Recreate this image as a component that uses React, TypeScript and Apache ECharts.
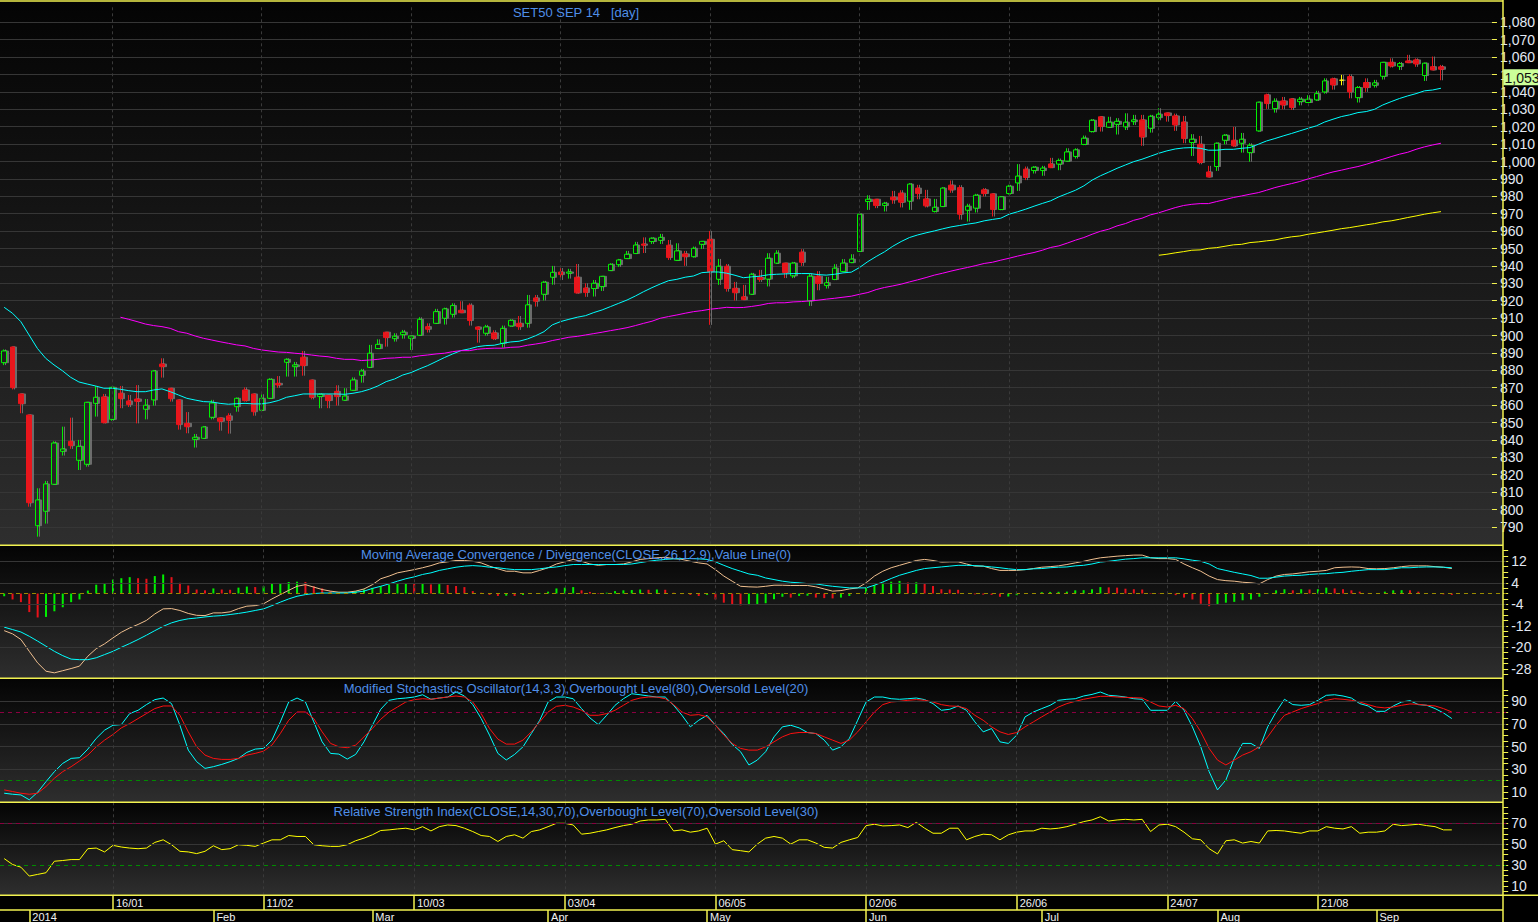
import React, { useEffect, useRef } from "react";
import * as echarts from "echarts";

// ---------------- categories (trading days) ----------------
const tradingDays: [number, number, number[]][] = [
  [2013, 12, [26, 27, 30]],
  [2014, 1, [2, 3, 6, 7, 8, 9, 10, 13, 14, 15, 16, 17, 20, 21, 22, 23, 24, 27, 28, 29, 30, 31]],
  [2014, 2, [3, 4, 5, 6, 7, 10, 11, 12, 13, 17, 18, 19, 20, 21, 24, 25, 26, 27, 28]],
  [2014, 3, [3, 4, 5, 6, 7, 10, 11, 12, 13, 14, 17, 18, 19, 20, 21, 24, 25, 26, 27, 28, 31]],
  [2014, 4, [1, 2, 3, 4, 8, 9, 10, 11, 16, 17, 18, 21, 22, 23, 24, 25, 28, 29, 30]],
  [2014, 5, [2, 6, 7, 8, 9, 12, 14, 15, 16, 19, 20, 21, 22, 23, 26, 27, 28, 29, 30]],
  [2014, 6, [2, 3, 4, 5, 6, 9, 10, 11, 12, 13, 16, 17, 18, 19, 20, 23, 24, 25, 26, 27, 30]],
  [2014, 7, [1, 2, 3, 4, 7, 8, 9, 10, 15, 16, 17, 18, 21, 22, 23, 24, 25, 28, 29, 30, 31]],
  [2014, 8, [1, 4, 5, 6, 7, 8, 13, 14, 15, 18, 19, 20, 21, 22, 25, 26, 27, 28, 29]],
  [2014, 9, [1, 2, 3, 4, 5, 8, 9, 10, 11, 12, 15, 16, 17, 18, 19, 22]],
];
const pad2 = (n: number) => String(n).padStart(2, "0");
const categories: string[] = [];
const catMonth: number[] = [];
tradingDays.forEach(([y, m, days]) =>
  days.forEach((d) => {
    categories.push(`${pad2(d)}/${pad2(m)}/${y}`);
    catMonth.push(y * 100 + m);
  })
);

const topRowLabels = ["16/01", "11/02", "10/03", "03/04", "06/05", "02/06", "26/06", "24/07", "21/08"];
const monthRowLabels = ["2014", "Feb", "Mar", "Apr", "May", "Jun", "Jul", "Aug", "Sep"];

// ---------------- price data [open, close, low, high] ----------------
const candles: number[][] = [
  [884.4, 891.1, 883.0, 892.0], [893.4, 870.0, 869.0, 893.6], [866.4, 860.8, 855.3, 866.5], [854.3, 803.9, 801.6, 854.5],
  [790.7, 805.5, 784.4, 812.2], [799.0, 814.7, 791.9, 816.4], [814.5, 838.2, 814.5, 839.2], [833.4, 834.8, 831.0, 847.6],
  [839.2, 836.7, 834.8, 852.8], [828.3, 836.3, 822.7, 840.0], [826.0, 861.6, 824.6, 861.6], [861.0, 864.5, 853.4, 871.0],
  [864.7, 849.9, 849.5, 866.4], [851.8, 870.2, 851.0, 870.5], [866.8, 863.7, 858.2, 871.0], [862.4, 860.3, 858.9, 865.8],
  [863.5, 862.2, 849.5, 871.5], [857.6, 859.9, 851.8, 863.5], [863.0, 879.6, 859.7, 880.2], [883.6, 882.1, 875.8, 886.9],
  [869.7, 863.7, 862.0, 869.7], [863.0, 848.8, 845.9, 863.0], [849.5, 847.6, 843.8, 856.0], [840.3, 841.5, 835.6, 843.4],
  [840.9, 847.4, 840.5, 848.0], [853.0, 861.2, 851.8, 863.0], [852.6, 850.7, 845.3, 852.6], [853.8, 851.3, 843.6, 855.3],
  [859.1, 863.9, 856.2, 864.3], [868.7, 862.6, 862.0, 870.2], [866.4, 856.2, 853.9, 866.4], [857.0, 863.9, 856.8, 866.2],
  [863.9, 874.8, 863.7, 875.4], [872.5, 871.6, 869.9, 876.7], [884.6, 886.3, 876.4, 886.9], [882.1, 883.1, 876.4, 884.8],
  [887.5, 882.7, 876.9, 891.1], [874.4, 864.5, 863.3, 874.4], [864.9, 866.2, 858.2, 866.8], [865.8, 862.6, 858.2, 865.8],
  [867.9, 864.9, 859.7, 871.4], [862.8, 865.2, 862.6, 869.7], [868.5, 874.4, 868.4, 875.9], [877.1, 879.6, 872.9, 880.8],
  [881.7, 889.8, 881.5, 894.6], [892.5, 894.9, 892.3, 897.8], [901.9, 898.8, 893.6, 901.9], [898.2, 899.6, 896.5, 901.3],
  [900.5, 901.9, 898.2, 903.2], [898.4, 899.7, 891.7, 899.7], [900.1, 909.3, 900.1, 910.5], [905.1, 903.6, 901.7, 907.0],
  [907.0, 913.7, 906.6, 915.3], [909.9, 915.3, 906.3, 916.0], [912.2, 917.2, 910.3, 918.5], [914.5, 913.1, 913.1, 919.7],
  [917.4, 908.6, 905.7, 918.5], [904.9, 903.6, 895.9, 904.9], [901.3, 904.9, 899.9, 906.1], [901.5, 898.2, 897.4, 903.0],
  [895.5, 904.1, 893.0, 905.7], [905.5, 908.7, 905.1, 909.3], [907.0, 905.1, 903.2, 911.2], [907.0, 917.6, 904.5, 923.3],
  [921.6, 919.7, 916.6, 923.3], [923.7, 930.6, 920.1, 931.4], [933.5, 936.3, 929.2, 940.0], [936.5, 935.0, 931.9, 938.8],
  [935.8, 936.5, 932.7, 938.3], [933.5, 924.5, 924.1, 941.1], [927.3, 924.7, 922.2, 930.0], [927.0, 930.0, 922.4, 931.9],
  [928.1, 934.0, 925.6, 934.0], [937.3, 940.9, 937.3, 941.5], [940.7, 943.4, 939.4, 944.0], [944.2, 946.7, 944.2, 948.6],
  [947.1, 952.0, 947.1, 953.8], [952.6, 951.9, 947.4, 956.4], [954.0, 955.9, 952.6, 956.4], [954.7, 956.4, 952.6, 958.4],
  [951.9, 944.8, 943.4, 954.9], [943.2, 948.6, 942.8, 953.0], [946.9, 945.3, 940.0, 948.6], [945.3, 950.1, 944.8, 951.1],
  [952.4, 954.1, 949.7, 954.1], [955.3, 936.7, 906.1, 960.1], [932.3, 939.8, 929.1, 944.0], [939.8, 927.0, 925.2, 941.1],
  [927.1, 924.6, 920.1, 930.8], [922.2, 920.6, 920.6, 929.1], [923.7, 935.2, 923.4, 936.0], [933.3, 932.2, 930.8, 937.7],
  [932.4, 944.4, 928.2, 947.3], [941.6, 947.3, 941.2, 949.0], [941.6, 936.2, 933.0, 941.6], [934.3, 941.6, 933.0, 942.3],
  [947.9, 942.1, 940.0, 949.6], [919.9, 934.1, 917.0, 935.6], [934.1, 929.9, 926.0, 937.0], [928.7, 930.3, 927.0, 933.7],
  [932.2, 938.7, 931.8, 941.0], [936.8, 941.6, 936.8, 943.9], [941.9, 943.9, 941.6, 946.7], [948.3, 969.7, 948.3, 970.1],
  [977.0, 978.3, 972.2, 980.6], [978.3, 974.7, 973.2, 978.3], [974.7, 976.0, 971.3, 976.8], [979.5, 978.0, 975.7, 983.1],
  [981.8, 976.6, 973.6, 983.5], [977.2, 987.0, 972.2, 987.5], [984.7, 981.6, 978.3, 986.6], [978.5, 974.5, 973.6, 983.7],
  [971.3, 973.7, 970.7, 978.5], [974.1, 984.7, 973.9, 985.2], [986.4, 983.7, 982.0, 989.1], [985.0, 969.7, 966.6, 986.4],
  [972.0, 974.3, 965.5, 975.7], [973.2, 980.6, 970.7, 981.4], [983.7, 981.6, 979.9, 984.7], [981.4, 972.4, 968.4, 981.4],
  [972.4, 979.7, 972.0, 980.1], [981.6, 985.8, 981.0, 986.6], [987.7, 991.6, 983.1, 998.5], [995.6, 990.8, 989.3, 997.1],
  [994.8, 996.7, 993.1, 997.3], [994.8, 996.2, 991.8, 997.5], [998.6, 996.5, 996.2, 1002.1], [998.5, 1000.6, 995.0, 1001.7],
  [1000.2, 1005.5, 1000.2, 1007.6], [1002.9, 1006.7, 1001.7, 1007.6], [1009.8, 1013.4, 1009.4, 1014.9], [1017.2, 1023.7, 1016.7, 1024.3],
  [1025.7, 1020.1, 1017.2, 1025.7], [1019.7, 1022.6, 1019.5, 1025.7], [1021.4, 1023.1, 1015.5, 1024.9], [1019.9, 1022.6, 1018.1, 1027.7],
  [1022.9, 1023.9, 1021.0, 1026.8], [1023.9, 1014.1, 1009.0, 1026.8], [1019.1, 1026.0, 1016.6, 1026.8], [1025.2, 1027.2, 1023.7, 1030.6],
  [1027.9, 1026.4, 1022.9, 1027.9], [1026.2, 1021.0, 1017.6, 1027.5], [1022.7, 1013.2, 1010.5, 1026.2], [1010.9, 1012.8, 1003.2, 1015.7],
  [1009.9, 999.4, 998.4, 1014.7], [994.0, 991.1, 991.1, 997.5], [997.1, 1010.5, 994.6, 1010.9], [1012.2, 1015.1, 1009.9, 1015.7],
  [1012.2, 1009.0, 1008.4, 1019.9], [1010.5, 1012.8, 1005.1, 1016.4], [1005.1, 1009.3, 999.9, 1010.5], [1017.6, 1034.1, 1017.2, 1034.2],
  [1038.3, 1033.3, 1030.2, 1039.0], [1030.4, 1034.6, 1028.1, 1036.3], [1034.8, 1032.5, 1030.0, 1037.1], [1036.0, 1031.0, 1029.6, 1036.3],
  [1034.4, 1035.8, 1032.3, 1037.1], [1033.9, 1035.8, 1033.9, 1038.1], [1035.4, 1039.0, 1034.8, 1040.6], [1040.0, 1046.3, 1039.0, 1047.8],
  [1047.5, 1044.0, 1041.3, 1048.2], [1046.7, 1046.7, 1043.8, 1049.8], [1048.8, 1040.0, 1036.3, 1050.1], [1036.7, 1042.5, 1033.9, 1043.4],
  [1045.4, 1042.5, 1040.0, 1047.8], [1043.8, 1045.2, 1042.5, 1046.9], [1049.0, 1057.0, 1047.1, 1057.0], [1057.0, 1054.9, 1054.0, 1059.3],
  [1054.7, 1056.3, 1052.6, 1057.2], [1057.8, 1056.8, 1056.8, 1061.3], [1058.4, 1056.1, 1054.4, 1059.3], [1049.4, 1056.5, 1046.3, 1056.8],
  [1054.5, 1052.6, 1052.6, 1060.3], [1054.4, 1053.0, 1046.7, 1055.5],
];

// moving averages
const maFast = [
  916.2, 912.8, 908, 900.3, 892.6, 886.9, 883.1, 879.8, 876, 873.3, 872.1, 871, 869.7, 869.7, 869.1, 868.3, 867.7, 867.7, 868.7, 869.3,
  867.7, 865.8, 863.9, 862.9, 862, 861.8, 861, 860.5, 860.8, 861, 860.7, 860.7, 861.4, 862.6, 864.5, 865.4, 866.4, 866.4, 866.4, 866.4,
  866.4, 866.2, 866.8, 867.7, 869.1, 871, 873.5, 875, 877.3, 878.7, 880.8, 882.7, 885, 887.3, 889.4, 891.3, 892.3, 893.6, 894.2, 894.4,
  895.5, 896.3, 896.7, 898, 899.9, 902.2, 906.1, 908, 909.3, 910.5, 911.4, 913.2, 914.7, 916.6, 918.5, 920.4, 922.7, 925.2, 927.5, 929.6,
  931.5, 932.3, 933.5, 934.2, 936.1, 936.5, 936.5, 935.8, 934.6, 933.2, 933.7, 934.1, 934.9, 935.2, 935.4, 935.6, 935.6, 935.6, 935.0, 934.7,
  935.2, 936, 936.4, 939.1, 942.5, 945.4, 948.1, 951.3, 954, 956.3, 957.8, 959, 960.1, 961.3, 962.4, 963.2, 964, 964.7, 965.9, 966.7,
  967.4, 969.7, 971.1, 972.6, 974.3, 975.9, 977.4, 979.7, 981.6, 983.5, 986, 989.3, 991.8, 993.9, 996.1, 998, 999.9, 1001.3, 1003, 1004.7,
  1006.1, 1007.2, 1007.8, 1008, 1007.6, 1006.5, 1006.5, 1007, 1007, 1007.6, 1008, 1009.9, 1011.8, 1013.2, 1014.7, 1016.1, 1017.6, 1019.1, 1020.5, 1022.7,
  1024.3, 1025.8, 1026.8, 1028.1, 1028.7, 1030, 1032.5, 1034.4, 1036.2, 1037.7, 1039, 1040.6, 1041.1, 1042.1,
];
const maMidStart = 14;
const maMid = [
  910.5, 909.3, 908, 906.6, 905.7, 905.1, 904.1, 902.2, 901.3, 899.7, 898.4, 897.4, 896.4, 895.5, 894.6, 894, 892.6, 891.7, 891.1, 890.5,
  890.3, 889.8, 889.4, 888.8, 888.2, 887.8, 886.9, 886.3, 886.3, 885.6, 885.9, 886.3, 886.9, 887.1, 887.5, 887.5, 888.3, 888.8, 889.4, 889.8,
  890.7, 891.3, 891.3, 892.1, 892.5, 892.7, 892.7, 893.2, 893.4, 894.4, 895.1, 895.9, 897.1, 898, 899, 899.5, 900.3, 901.1, 901.9, 902.8,
  903.6, 904.5, 905.7, 907, 908.2, 909.9, 910.9, 911.8, 912.8, 913.7, 914.3, 915.1, 915.6, 916.2, 916, 916.1, 916.7, 917.4, 918.4, 918.8,
  918.8, 919.3, 919.5, 919.9, 920.3, 920.9, 921.4, 922, 922.6, 923.7, 924.7, 926.4, 927.6, 928.5, 929.5, 930.8, 932, 933.3, 934.7, 935.8,
  937, 938.1, 939.1, 940.2, 941.4, 942.1, 943.3, 944.4, 945.6, 946.7, 947.7, 949, 950.6, 951.5, 953.1, 954.8, 956.3, 958.2, 959.9, 961.1,
  963, 964.3, 966.2, 967.4, 969.3, 970.5, 972, 973.5, 974.7, 975.4, 975.8, 975.8, 977, 978.1, 979.3, 980.2, 981.2, 982.1, 983.5, 985,
  986.2, 987.3, 988.5, 990, 991.3, 992.7, 994, 995, 996.1, 997.1, 998.4, 999.9, 1001.3, 1002.8, 1004.2, 1005.3, 1007, 1008.4, 1009.5, 1010.5,
];
const maSlowStart = 139;
const maSlow = [
  946.1, 946.7, 947.5, 948.2, 949, 949.2, 950.1, 950.5, 951.3, 952.1, 952.4, 953.4, 953.8, 954.4, 954.9, 955.9, 956.7, 957.2, 958.2, 958.9,
  959.7, 960.5, 961.4, 962, 962.8, 963.6, 964.3, 965.3, 965.9, 966.8, 967.8, 968.7, 969.7, 970.5, 971.2,
];

// MACD
const macdLine = [
  -13.8, -15, -17.1, -21.5, -25.8, -28.9, -29.5, -28.7, -27.9, -27, -23.3, -20.5, -18.7, -16.5, -14.4, -12.8, -11.5, -10, -7.6, -5.7,
  -5.6, -6.3, -7.4, -8.1, -8.2, -7.2, -7.2, -6.8, -5.6, -4.7, -4.5, -3.8, -2, -0.4, 1.2, 2.7, 3.3, 2.4, 1.5, 0.9,
  0.5, 0.5, 0.9, 1.7, 3.3, 5.5, 6.5, 7.7, 8.3, 8.9, 9.6, 10.4, 11.4, 11.8, 12.3, 12.3, 12, 11.4, 10.2, 9.2,
  8.3, 8.3, 7.7, 7.7, 8.6, 9.6, 11, 11.8, 12.7, 12, 11, 10.5, 10.8, 10.8, 11, 11.8, 12.7, 13, 13.3, 13.5,
  13, 12.7, 12, 11.4, 11, 8.9, 6.5, 4.6, 2.7, 2.5, 2.4, 2.7, 3.1, 3.1, 3, 3, 3, 2.5, 1.7, 0.9,
  1.1, 1.7, 2.1, 4, 6.5, 8.3, 9.6, 10.5, 11.4, 12.3, 12.7, 12.3, 11.7, 11.8, 11.8, 11, 10.2, 10.2, 9.3, 8.6,
  8.6, 8.6, 8.9, 9.3, 9.8, 10, 10.3, 10.8, 11.4, 12, 12.7, 13.3, 13.6, 13.9, 14.1, 14.3, 14.3, 13.3, 13, 13,
  12.7, 11, 9.6, 8.3, 6.5, 5.2, 4.8, 4.6, 4.2, 4, 3.6, 5.2, 6.5, 7.1, 7.3, 7.7, 8.1, 8.3, 8.6, 9.6,
  9.8, 9.9, 9.8, 9.3, 9.2, 9.3, 9.6, 10, 10.3, 10.3, 10.3, 10, 9.8, 9.3,
];
const signalLine = [
  -12.5, -13.4, -14.3, -15.9, -17.7, -19.6, -21.5, -23.1, -24.4, -24.6, -24.6, -23.9, -22.7, -21.5, -20, -18.6, -17.1, -15.5, -13.8, -12.2,
  -10.9, -10, -9.4, -9.1, -8.7, -8.4, -8.2, -7.8, -7.4, -6.9, -6.3, -5.7, -4.5, -3.2, -2, -1, -0.4, 0, 0.2, 0.2,
  0.2, 0.2, 0.5, 0.9, 1.9, 2.7, 3.6, 4.6, 5.5, 6.2, 7.1, 7.7, 8.6, 9.2, 9.8, 10.2, 10.4, 10.2, 9.8, 9.6,
  9.2, 8.9, 8.9, 8.9, 9.2, 9.6, 9.9, 10.4, 10.8, 10.8, 10.8, 10.8, 10.8, 10.8, 10.8, 11, 11.5, 12, 12.4, 12.7,
  12.9, 13, 13, 12.9, 12.7, 11.8, 10.5, 9.3, 8.3, 7.3, 6.8, 5.8, 5.2, 4.6, 4.2, 4, 3.7, 3.6, 3.1, 2.7,
  2.4, 2.1, 2.1, 2.1, 3.1, 4.3, 5.6, 6.8, 7.7, 8.6, 9.3, 9.6, 9.9, 10.2, 10.5, 10.5, 10.4, 10.2, 9.9, 9.6,
  9.2, 8.9, 8.9, 9.2, 9.3, 9.6, 9.8, 9.9, 10.3, 10.5, 11, 11.7, 12, 12.4, 12.8, 13, 13.3, 13.3, 13.3, 13.3,
  13.3, 12.9, 12.4, 12, 11, 9.3, 8.6, 7.9, 7.3, 6.7, 5.7, 5.7, 6.1, 6.5, 6.7, 6.8, 7.1, 7.3, 7.4, 7.7,
  7.9, 8.3, 8.6, 8.9, 8.9, 8.9, 9.2, 9.6, 9.6, 9.8, 9.9, 9.9, 9.8, 9.6,
];
const macdHist = [
  -1.0, -2.2, -3.2, -6.9, -8.9, -8.7, -6.6, -5.1, -3.2, -2.2, 1.1, 3.3, 3.8, 5.2, 5.7, 6.1, 5.7, 5.5, 6.5, 7.1,
  6.1, 4.0, 3.0, 1.5, 1.2, 1.9, 1.5, 1.4, 2.2, 2.6, 2.4, 2.7, 3.6, 3.8, 4.3, 4.4, 4.3, 2.7, 1.9, 0.9,
  0.3, 0.1, 0.9, 1.5, 2.1, 2.7, 3.3, 3.7, 3.8, 3.6, 3.8, 3.4, 3.5, 3.2, 2.8, 2.4, 0.9, 0.3, -0.5, -0.9,
  -0.8, -0.9, -0.5, 0, 0.2, 0.7, 1.9, 2.2, 2.4, 1.2, 0.6, 0.2, 0.3, 0.9, 1.2, 1.3, 1.5, 1.4, 1.5, 1.4,
  0.3, -0.2, -0.5, -0.9, -0.5, -2.2, -3.4, -4.0, -4.4, -4.3, -4.0, -3.6, -2.1, -1.2, -1.5, -0.9, -0.8, -1.5, -1.7, -1.8,
  -1.5, -0.9, 0, 2.2, 3.2, 4.1, 4.4, 4.7, 4.1, 4.2, 3.7, 2.8, 1.6, 1.5, 1.4, 0, -0.3, -0.4, -0.5, -1.2,
  -1.1, -0.6, 0, 0.1, 0.5, 0.6, 0.65, 0.7, 1.2, 1.25, 1.6, 2.4, 2.3, 2.2, 1.8, 1.6, 1.5, 0.2, 0.1, 0,
  -0.6, -1.5, -2.2, -3.8, -4.7, -4.0, -3.4, -3.1, -2.5, -2.2, -1.2, 0.2, 1.2, 1.6, 1.2, 1.6, 1.5, 1.6, 2.2, 1.9,
  1.6, 1.2, 0.7, 0.1, 0, 0.7, 1.2, 1.25, 1.2, 0.7, 0.2, 0.1, -0.3, -0.5,
];

// Stochastics
const stochK = [
  9, 8.1, 7.5, 3.2, 9.9, 19.2, 28, 35.3, 39.7, 40.3, 47.9, 57.3, 64.6, 68.9, 69.5, 79.2, 82.1, 87.1, 91.5, 92.9,
  88, 68.9, 47, 36.8, 30.9, 32.4, 34.4, 36.8, 39.7, 45, 47.9, 48.5, 55.8, 71.9, 89.4, 92.9, 89.4, 71.9, 54.3, 44.1,
  43.5, 39.1, 43.2, 54.3, 68.9, 83, 90.9, 92.3, 92.9, 93.8, 95.8, 91.8, 92.9, 93.8, 98.2, 94.7, 87.1, 74.9, 60.2, 44.1,
  38.3, 43.2, 49.9, 61.6, 73.3, 89.4, 93.8, 93.8, 92.3, 83.6, 75.4, 69.5, 77.7, 86.5, 92.3, 96.7, 95.8, 94.7, 93.8, 93.8,
  86.5, 77.7, 67.5, 73.3, 77.7, 68.9, 61.6, 52, 45.6, 33.9, 38.2, 45.6, 58.7, 67.5, 68.9, 66.6, 62.5, 61.6, 55.8, 47,
  49.9, 57.3, 73.3, 89.4, 93.8, 93.8, 92.3, 91.8, 92.3, 92.9, 91.5, 88, 82.1, 83, 85.9, 82.1, 71.9, 63.1, 66, 54.3,
  52.9, 60.2, 76.3, 80.6, 83.6, 86.5, 90.9, 91.8, 92.3, 94.7, 96.1, 98.2, 95.3, 94.7, 93.8, 92.3, 91.8, 82.1, 82.1, 82.1,
  90, 82.1, 67.5, 49.9, 28, 11.9, 20.7, 39.7, 52.9, 52.9, 48.5, 67.5, 80.6, 91.8, 87.1, 86.5, 87.1, 90.9, 95.3, 95.8,
  94.7, 92.9, 88, 85.9, 81.2, 81.2, 85.9, 89.4, 90.6, 87.1, 86.5, 83.6, 79.8, 74.8,
];
const stochD = [
  11.9, 10.5, 9, 8.1, 9, 14.9, 22.2, 28, 32.4, 37.4, 42.6, 49.9, 55.8, 60.8, 66.6, 70.4, 74.8, 79.2, 83.6, 85.9,
  85.9, 77.7, 63.1, 49.9, 42.6, 39.7, 38.8, 38.8, 39.7, 42.6, 44.1, 46.1, 51.4, 61.6, 73.3, 80.6, 80.6, 74.8, 63.1, 52.9,
  49.9, 49.1, 51.4, 58.7, 66, 74.2, 80.6, 85, 89.4, 91.5, 92.3, 91.8, 92.9, 93.8, 94.7, 93.8, 89.4, 79.2, 66, 56.7,
  52.3, 52.3, 55.8, 63.1, 71.9, 80.6, 85.6, 86.5, 85, 82.1, 77.7, 77.7, 79.2, 82.1, 86.5, 90.9, 92.9, 93.8, 93.8, 92.3,
  87.1, 80.6, 77.7, 78.3, 76.3, 68.9, 60.2, 52.9, 48.5, 47, 47, 49.9, 54.3, 58.7, 61.6, 62.5, 62.5, 61.6, 58.7, 55.8,
  52.9, 55.8, 63.1, 71.9, 80.6, 87.1, 89.4, 90, 90.9, 91.5, 90.9, 89.4, 87.1, 85.9, 85.6, 83.6, 77.7, 73.3, 67.5, 63.1,
  60.8, 62.5, 67.5, 71.9, 76.3, 80.6, 85, 88, 90, 91.8, 93.2, 94.4, 94.4, 93.8, 93.5, 93.2, 92.9, 89.4, 85.9, 85,
  86.5, 83.6, 74.8, 63.1, 48.5, 38.2, 33.9, 38.2, 42.6, 45.6, 49.9, 58.7, 68.9, 77.7, 80.6, 83.6, 85.9, 88, 90.9, 92.3,
  91.8, 90.9, 89.4, 87.1, 85, 84.2, 85, 86.5, 87.7, 87.4, 86.5, 85.9, 83.6, 80.6,
];

// RSI
const rsi = [
  36.2, 30.6, 28, 19.5, 21.1, 22.7, 33.7, 34.4, 35.3, 35.3, 45.7, 46.3, 42.6, 48.9, 47.3, 46.3, 45.7, 46.3, 51.7, 54.2,
  49.5, 43.2, 42.6, 41, 43.2, 48.5, 44.8, 45.7, 49.5, 48.9, 47.9, 51.1, 54.2, 54.2, 58.3, 57.4, 57.4, 49.5, 48.5, 47.9,
  47.9, 49.5, 53.3, 55.8, 59, 63.1, 63.7, 64.6, 65.3, 63.7, 66.8, 62.7, 66.8, 68.4, 67.8, 65.3, 62.1, 58.3, 57.4, 52.6,
  57.4, 59, 55.8, 62.1, 63.7, 66.8, 70, 70, 68.4, 59.6, 60.5, 62.1, 63.7, 65.9, 67.8, 69.1, 72.2, 73.2, 73.2, 73.8,
  62.7, 63.7, 61.5, 62.7, 65.3, 50.1, 53.3, 44.8, 43.8, 42.6, 50.1, 55.8, 57.4, 55.8, 50.1, 54.2, 54.2, 51.1, 47, 46.3,
  51.7, 54.2, 56.4, 67.8, 69.1, 67.5, 67.8, 68.4, 65.9, 70.9, 65.3, 60.5, 60.5, 65.3, 65.3, 54.2, 57.4, 59.6, 59, 54.2,
  59, 61.5, 62.7, 62.7, 65.3, 64.6, 65.3, 66.8, 69.1, 71.6, 73.2, 76.3, 72.2, 73.2, 73.8, 73.2, 73.8, 62.1, 68.4, 69.1,
  66.8, 61.5, 55.2, 54.2, 45.7, 40.7, 53.3, 54.2, 51.1, 52.6, 51.1, 62.7, 63.1, 62.7, 61.5, 60.5, 62.7, 62.7, 66.8, 65.3,
  64.6, 66.8, 60.5, 61.5, 61.5, 62.7, 69.1, 67.8, 68.4, 69.1, 67.8, 66.8, 63.7, 63.7,
];

// axis tick / label values
const macdLabels = [12, 4, -4, -12, -20, -28];
const macdTicks = [16, 14, 12, 10, 8, 6, 4, 2, 0, -2, -4, -6, -8, -10, -12, -14, -16, -18, -20, -22, -24, -26, -28, -30];
const macdGrid = [12, 4, -4, -12, -20];
const stochLabels = [90, 70, 50, 30, 10];
const stochTicks = [100, 95, 90, 85, 80, 75, 70, 65, 60, 55, 50, 45, 40, 35, 30, 25, 20, 15, 10, 5];
const stochGrid = [90, 70, 50, 30];
const rsiLabels = [70, 50, 30, 10];
const rsiTicks = [85, 80, 75, 70, 65, 60, 55, 50, 45, 40, 35, 30, 25, 20, 15, 10, 5];
const rsiGrid = [70, 50];

// ---------------- styling ----------------
const YEL = "#f2f250";
const GRID = "#363636";
const VGRID = "#3a3a3a";
const LBL = "#e2e8f2";
const GREEN = "#00f000";
const RED = "#e8121a";
const CYAN = "#00ffff";
const FONT = "'Liberation Sans', Arial, sans-serif";
const TITLE = "#4f8fe8";
const BG_TOP = [4, 4, 4];
const BG_BOTTOM = [46, 46, 46];

const GL = -2.7;
const GW = 1508.9;
const AXIS_X = 1503;
const P = { top: 1, macd: 545.3, stoch: 678.3, rsi: 802.3, rsiBottom: 895.3, row2: 910 };
const MAIN_MIN = 780;
const MAIN_MAX = 1090;

const rgb = (c: number[]) => `rgb(${c.map((x) => Math.round(x)).join(",")})`;
// fill of a hollow (rising) candle: the panel colour behind it
const hollowFill = (o: number, c: number) => {
  const mid = (o + c) / 2;
  const t = Math.min(1, Math.max(0, (MAIN_MAX - mid) / (MAIN_MAX - MAIN_MIN)));
  return rgb(BG_TOP.map((a, i) => a + (BG_BOTTOM[i] - a) * t));
};
const lastClose = candles[candles.length - 1][1];
const priceText = lastClose.toLocaleString("en-US", { minimumFractionDigits: 1, maximumFractionDigits: 1 });

function buildOption() {
  const topIdx = new Set<number>();
  categories.forEach((c, i) => {
    if (topRowLabels.includes(c.slice(0, 5))) topIdx.add(i);
  });
  const monthIdx = new Map<number, string>();
  let k = 0;
  for (let i = 1; i < categories.length; i++) {
    if (catMonth[i] !== catMonth[i - 1] && k < monthRowLabels.length) {
      monthIdx.set(i, monthRowLabels[k++]);
    }
  }
  const vLines = Array.from(topIdx).map((i) => ({
    xAxis: categories[i],
    lineStyle: { color: VGRID, type: [3, 3] as any, width: 1 },
  }));
  const hLines = (vals: number[]) =>
    vals.map((v) => ({ yAxis: v, lineStyle: { color: GRID, type: "solid", width: 1 } }));
  const dashLine = (v: number, color: string) => ({ yAxis: v, lineStyle: { color, type: [4, 4] as any, width: 1 } });
  const mlBase = { symbol: ["none", "none"], silent: true, animation: false, label: { show: false }, precision: 2 };

  const pad = (start: number, vals: number[]) => Array(start).fill("-").concat(vals);

  const grids = [
    { left: GL, width: GW, top: 4.9, height: 539.4 },
    { left: GL, width: GW, top: P.macd, height: P.stoch - P.macd },
    { left: GL, width: GW, top: P.stoch, height: P.rsi - P.stoch },
    { left: GL, width: GW, top: P.rsi, height: P.rsiBottom - P.rsi },
  ];

  const hiddenX = (g: number) => ({ type: "category", gridIndex: g, data: categories, show: false, boundaryGap: true });

  const subY = (g: number, min: number, max: number, labels: number[], ticks: number[]) => ({
    type: "value",
    gridIndex: g,
    position: "right",
    offset: -3,
    min,
    max,
    axisLine: { show: false },
    axisTick: { show: true, length: 5, customValues: ticks, lineStyle: { color: YEL } },
    axisLabel: { customValues: labels, color: LBL, fontSize: 14, fontFamily: FONT, margin: 8 },
    splitLine: { show: false },
  });

  const lineS = (xi: number, data: any[], color: string, width = 1) => ({
    type: "line",
    xAxisIndex: xi,
    yAxisIndex: xi,
    data,
    showSymbol: false,
    symbol: "none",
    silent: true,
    clip: false,
    lineStyle: { color, width },
    itemStyle: { color },
  });

  const dummy = (xi: number, data: any[]) => ({
    type: "line",
    xAxisIndex: xi,
    yAxisIndex: xi,
    data: [],
    silent: true,
    markLine: { ...mlBase, data },
  });

  const bg = (id: string, top: number, bottom: number) => ({
    id,
    type: "rect",
    z: -10,
    silent: true,
    shape: { x: 0, y: top, width: AXIS_X, height: bottom - top },
    style: {
      fill: new echarts.graphic.LinearGradient(0, 0, 0, 1, [
        { offset: 0, color: rgb(BG_TOP) },
        { offset: 1, color: rgb(BG_BOTTOM) },
      ]),
    },
  });
  const hl = (id: string, y: number, x2 = AXIS_X) => ({
    id,
    type: "line",
    z: 50,
    silent: true,
    shape: { x1: 0, y1: y, x2, y2: y },
    style: { stroke: YEL, lineWidth: 1.5 },
  });
  const title = (id: string, text: string, y: number) => ({
    id,
    type: "text",
    z: 50,
    silent: true,
    x: 576,
    y,
    style: { text, fill: TITLE, font: `13px ${FONT}`, align: "center", verticalAlign: "middle" },
  });

  const candleData = candles.map(([o, c, l, h]) => ({
    value: [o, c, l, h],
    itemStyle: c > o ? { color: hollowFill(o, c) } : undefined,
  }));

  return {
    animation: false,
    backgroundColor: "#000",
    grid: grids,
    xAxis: [
      hiddenX(0),
      hiddenX(1),
      hiddenX(2),
      hiddenX(3),
      {
        type: "category",
        gridIndex: 3,
        data: categories,
        position: "bottom",
        offset: 0,
        axisLine: { show: false },
        axisTick: {
          show: true,
          alignWithLabel: true,
          interval: (i: number) => topIdx.has(i),
          length: P.row2 - P.rsiBottom,
          lineStyle: { color: YEL, width: 1.5 },
        },
        axisLabel: {
          show: true,
          interval: (i: number) => topIdx.has(i),
          formatter: (v: string) => v.slice(0, 5),
          color: "#f0f0f0",
          fontSize: 11,
          fontFamily: FONT,
          align: "left",
          padding: [0, 0, 0, 3],
          margin: 2,
        },
        splitLine: { show: false },
      },
      {
        type: "category",
        gridIndex: 3,
        data: categories,
        position: "bottom",
        offset: P.row2 - P.rsiBottom,
        axisLine: { show: false },
        axisTick: {
          show: true,
          alignWithLabel: true,
          interval: (i: number) => monthIdx.has(i),
          length: 14,
          lineStyle: { color: YEL, width: 1.5 },
        },
        axisLabel: {
          show: true,
          interval: (i: number) => monthIdx.has(i),
          formatter: (_v: string, i: number) => monthIdx.get(i) || "",
          color: "#f0f0f0",
          fontSize: 11,
          fontFamily: FONT,
          align: "left",
          padding: [0, 0, 0, 3],
          margin: 1,
        },
        splitLine: { show: false },
      },
    ],
    yAxis: [
      {
        type: "value",
        gridIndex: 0,
        position: "right",
        offset: -3,
        min: MAIN_MIN,
        max: MAIN_MAX,
        interval: 10,
        axisLine: { show: false },
        axisTick: { show: true, length: 5, lineStyle: { color: YEL } },
        axisLabel: {
          showMinLabel: false,
          showMaxLabel: false,
          color: LBL,
          fontSize: 14,
          fontFamily: FONT,
          margin: 8,
          formatter: (v: number) => v.toLocaleString("en-US"),
        },
        splitLine: { show: true, showMinLine: false, showMaxLine: false, lineStyle: { color: GRID, width: 1 } },
      },
      subY(1, -31.53, 17.95, macdLabels, macdTicks),
      subY(2, 1.0, 110.3, stochLabels, stochTicks),
      subY(3, 1.1, 90.1, rsiLabels, rsiTicks),
    ],
    series: [
      dummy(0, vLines),
      {
        type: "candlestick",
        xAxisIndex: 0,
        yAxisIndex: 0,
        data: candleData,
        barWidth: 5,
        silent: true,
        itemStyle: {
          color: "#111",
          color0: RED,
          borderColor: GREEN,
          borderColor0: RED,
          borderColorDoji: "#ffff00",
          borderWidth: 1,
          shadowColor: "rgba(115,115,115,0.9)",
          shadowOffsetX: 2,
          shadowOffsetY: 0,
          shadowBlur: 0,
        },
      },
      lineS(0, maFast, CYAN),
      lineS(0, pad(maMidStart, maMid), "#ff00ff"),
      lineS(0, pad(maSlowStart, maSlow), "#ffff00"),

      dummy(1, [...hLines(macdGrid), dashLine(0, "#9a8a00"), ...vLines]),
      {
        type: "bar",
        xAxisIndex: 1,
        yAxisIndex: 1,
        data: macdHist,
        barWidth: 2,
        silent: true,
        itemStyle: {
          color: (p: any) => (p.dataIndex === 0 || macdHist[p.dataIndex] >= macdHist[p.dataIndex - 1] ? GREEN : RED),
        },
      },
      lineS(1, macdLine, "#f0c090"),
      lineS(1, signalLine, CYAN),

      dummy(2, [...hLines(stochGrid), dashLine(80, "#8a0040"), dashLine(20, "#008c00"), ...vLines]),
      lineS(2, stochK, CYAN),
      lineS(2, stochD, "#ff1010"),

      dummy(3, [...hLines(rsiGrid), dashLine(70, "#8a0040"), dashLine(30, "#008c00"), ...vLines]),
      lineS(3, rsi, "#ffff00"),
    ],
    graphic: {
      elements: [
        bg("bg0", P.top, P.macd),
        bg("bg1", P.macd, P.stoch),
        bg("bg2", P.stoch, P.rsi),
        bg("bg3", P.rsi, P.rsiBottom),
        hl("h0", P.top),
        hl("h1", P.macd),
        hl("h2", P.stoch),
        hl("h3", P.rsi),
        hl("h4", P.rsiBottom, 1538),
        hl("h5", P.row2),
        {
          id: "vaxis",
          type: "line",
          z: 50,
          silent: true,
          shape: { x1: AXIS_X, y1: 0, x2: AXIS_X, y2: 922 },
          style: { stroke: YEL, lineWidth: 1.5 },
        },
        title("t0", "SET50 SEP 14   [day]", 12.5),
        title("t1", "Moving Average Convergence / Divergence(CLOSE,26,12,9),Value Line(0)", 554.5),
        title("t2", "Modified Stochastics Oscillator(14,3,3),Overbought Level(80),Oversold Level(20)", 688),
        title("t3", "Relative Strength Index(CLOSE,14,30,70),Overbought Level(70),Oversold Level(30)", 811.5),
        {
          id: "priceTag",
          type: "group",
          x: AXIS_X + 0.5,
          y: -100,
          z: 60,
          silent: true,
          children: [
            { type: "rect", z: 60, shape: { x: 0, y: 0, width: 40, height: 16 }, style: { fill: "#ccff99" } },
            {
              type: "text",
              z: 61,
              x: 1,
              y: 8.5,
              style: { text: priceText, fill: "#111", font: `14px ${FONT}`, verticalAlign: "middle" },
            },
          ],
        },
      ],
    },
  };
}

export default function App() {
  const ref = useRef<HTMLDivElement>(null);
  useEffect(() => {
    if (!ref.current) return;
    const chart = echarts.init(ref.current, null, { renderer: "svg" });
    chart.setOption(buildOption() as any);
    try {
      // current price tag, placed with the main panel's price scale
      const py = chart.convertToPixel({ yAxisIndex: 0 } as any, lastClose) as unknown as number;
      if (typeof py === "number" && isFinite(py)) {
        chart.setOption({ graphic: { elements: [{ id: "priceTag", y: py }] } } as any);
      }
    } catch (e) {
      // keep the chart even if the tag can't be placed
    }
    return () => chart.dispose();
  }, []);
  return (
    <div
      ref={ref}
      style={{ position: "absolute", left: 0, top: 0, width: 1538, height: 922, background: "#000" }}
    />
  );
}
